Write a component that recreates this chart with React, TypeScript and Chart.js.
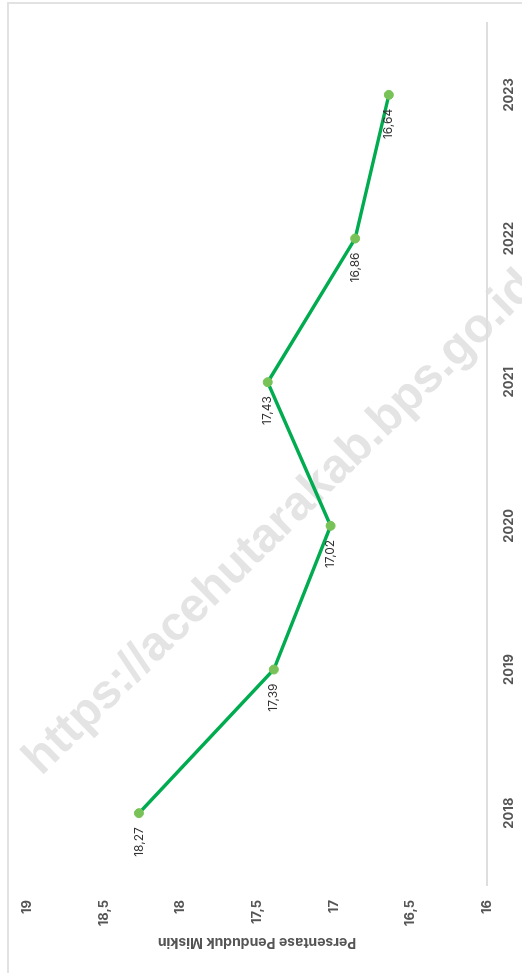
import { useEffect, useRef } from 'react';
import { Chart, registerables } from 'chart.js';

Chart.register(...registerables);

const years = ['2018', '2019', '2020', '2021', '2022', '2023'];
const povertyRate = [18.27, 17.39, 17.02, 17.43, 16.86, 16.64];
const axisMin = 16;
const axisMax = 19;
const axisStep = 0.5;
const axisTitle = 'Persentase Penduduk Miskin';
const watermarkText = 'https://acehutarakab.bps.go.id';

const fmt = (v: number) => String(v).replace('.', ',');

const watermarkPlugin = {
  id: 'watermark',
  beforeDraw(chart: any) {
    const ctx = chart.ctx;
    ctx.save();
    ctx.translate(206, 32);
    ctx.rotate((45.5 * Math.PI) / 180);
    ctx.font = 'bold 48px "Liberation Sans", Arial, sans-serif';
    ctx.fillStyle = '#e4e4e4';
    ctx.textAlign = 'left';
    ctx.textBaseline = 'middle';
    ctx.fillText(watermarkText, 0, 0);
    ctx.restore();
  },
};

const valueLabelPlugin = {
  id: 'valueLabels',
  afterDatasetsDraw(chart: any) {
    const ctx = chart.ctx;
    const meta = chart.getDatasetMeta(0);
    const data = chart.data.datasets[0].data as number[];
    ctx.save();
    ctx.font = '12px Inter, "Noto Sans", sans-serif';
    ctx.fillStyle = '#333333';
    ctx.textAlign = 'right';
    ctx.textBaseline = 'middle';
    meta.data.forEach((pt: any, i: number) => {
      ctx.fillText(fmt(data[i]), pt.x - 14, pt.y);
    });
    ctx.restore();
  },
};

export default function App() {
  const ref = useRef<HTMLCanvasElement | null>(null);

  useEffect(() => {
    if (!ref.current) return;
    const chart = new Chart(ref.current, {
      type: 'line',
      data: {
        labels: years,
        datasets: [
          {
            label: axisTitle,
            data: povertyRate,
            borderColor: '#00ac4f',
            borderWidth: 3.5,
            pointRadius: 4.5,
            pointBackgroundColor: '#78c257',
            pointBorderColor: '#78c257',
            pointBorderWidth: 1,
            tension: 0,
          },
        ],
      },
      options: {
        animation: false,
        responsive: false,
        layout: { padding: { top: 27, right: 23, bottom: 0, left: 0 } },
        plugins: {
          legend: { display: false },
          tooltip: { enabled: false },
        },
        scales: {
          x: {
            type: 'category',
            offset: true,
            grid: { display: false, drawTicks: false },
            border: { display: true, color: '#dedede', width: 2 },
            ticks: {
              padding: 14,
              color: '#555555',
              font: { family: 'Inter, "Noto Sans", sans-serif', size: 13, weight: 'bold' },
            },
            afterFit(scale: any) {
              scale.height = 35;
            },
          },
          y: {
            min: axisMin,
            max: axisMax,
            grid: { display: false, drawTicks: false },
            border: { display: false },
            ticks: {
              stepSize: axisStep,
              padding: 15,
              color: '#555555',
              font: { family: 'Inter, "Noto Sans", sans-serif', size: 13, weight: 'bold' },
              callback: (v: any) => fmt(Number(v)),
            },
            title: {
              display: true,
              text: axisTitle,
              color: '#555555',
              padding: { top: 22.5, bottom: 0 },
              font: { family: 'Inter, "Noto Sans", sans-serif', size: 14, weight: 'bold' },
            },
            afterFit(scale: any) {
              scale.width = 88;
            },
          },
        },
      },
      plugins: [watermarkPlugin, valueLabelPlugin],
    });
    return () => chart.destroy();
  }, []);

  return (
    <div
      style={{
        position: 'fixed',
        left: 0,
        top: 0,
        width: 522,
        height: 973,
        overflow: 'hidden',
        background: '#ffffff',
      }}
    >
      <div
        style={{
          position: 'absolute',
          left: 0,
          top: 0,
          width: 973,
          height: 522,
          transformOrigin: '0 0',
          transform: 'translate(0px, 973px) rotate(-90deg)',
        }}
      >
        <div
          style={{
            position: 'absolute',
            left: -20,
            top: 7,
            width: 991,
            height: 600,
            boxSizing: 'border-box',
            border: '2px solid #e2e2e2',
          }}
        />
        <canvas
          ref={ref}
          width={973}
          height={522}
          style={{ position: 'absolute', left: 0, top: 0, width: 973, height: 522 }}
        />
      </div>
    </div>
  );
}
